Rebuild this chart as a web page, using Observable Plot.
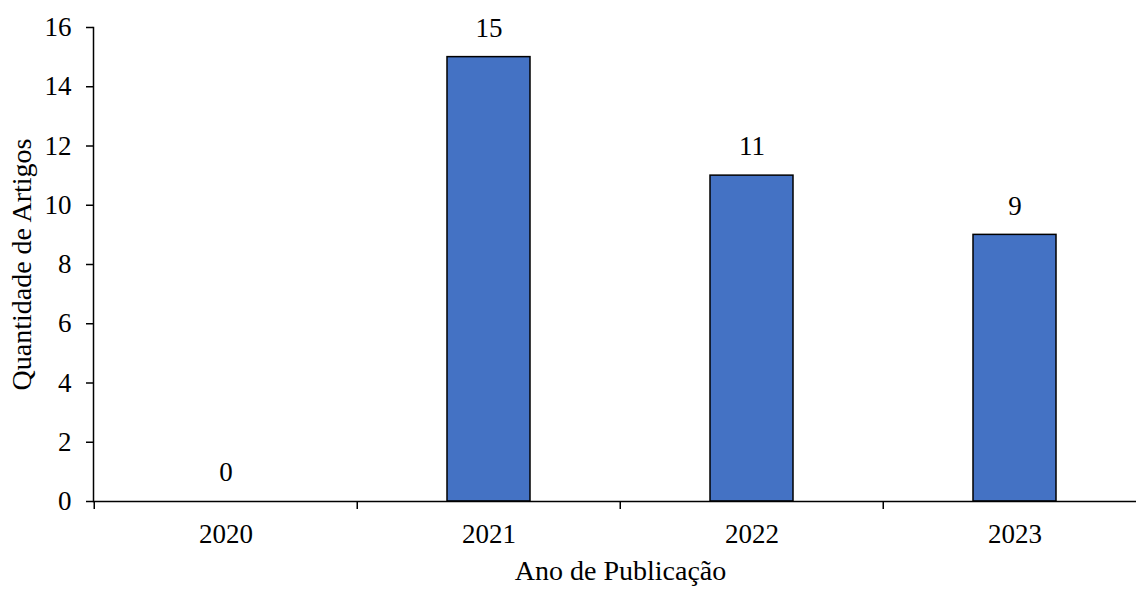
<!DOCTYPE html>
<html>
<head>
<meta charset="utf-8">
<script src="https://cdn.jsdelivr.net/npm/d3@7"></script>
<script src="https://cdn.jsdelivr.net/npm/@observablehq/plot@0.6"></script>
<style>
  html, body { margin: 0; padding: 0; background: #fff; }
</style>
</head>
<body>
<div id="chart"></div>
<script>
// Articles per publication year
const years = ["2020", "2021", "2022", "2023"];
const counts = [0, 15, 11, 9];
const yTicks = [0, 2, 4, 6, 8, 10, 12, 14, 16];

const data = years.map((year, i) => ({year, count: counts[i]}));

const left = 93, right = 1147;
const step = (right - left) / years.length;

const chart = Plot.plot({
  width: 1136,
  height: 591,
  marginTop: 27,
  marginBottom: 90,
  marginLeft: left,
  marginRight: 0,
  style: {fontFamily: "'Liberation Serif', 'Times New Roman', serif", fontSize: "27px", color: "#000", background: "#fff"},
  x: {type: "band", domain: years, range: [left, right], paddingInner: 0.685, paddingOuter: 0.3425, align: 0.5},
  y: {domain: [0, 16]},
  marks: [
    Plot.barY(data, {x: "year", y: "count", fill: "#4472C4", stroke: "#000", strokeWidth: 1.5}),
    // category labels (no ticks under the labels)
    Plot.axisX({tickSize: 0, tickPadding: 22, fontSize: 27, label: null}),
    // tick marks on the boundaries between categories
    Plot.axisX({tickSize: 8, dx: -step / 2, tickFormat: () => "", label: null, strokeWidth: 1.5}),
    Plot.axisY({ticks: yTicks, tickSize: 7, tickPadding: 15, fontSize: 27, strokeWidth: 1.5, label: null}),
    Plot.frame({anchor: "left", strokeWidth: 1.5}),
    Plot.ruleY([0], {strokeWidth: 1.5}),
    Plot.text(data, {x: "year", y: "count", text: d => String(d.count), dy: -29, fontSize: 27}),
    // axis titles, the x title centred under the full category range
    Plot.text(["Ano de Publicação"], {frameAnchor: "bottom", dx: (left + right) / 2 - (left + 1136) / 2, dy: 78, fontSize: 28}),
    Plot.text(["Quantidade de Artigos"], {frameAnchor: "left", textAnchor: "middle", rotate: -90, dx: -71, fontSize: 28})
  ]
});

document.getElementById("chart").append(chart);
</script>
</body>
</html>
